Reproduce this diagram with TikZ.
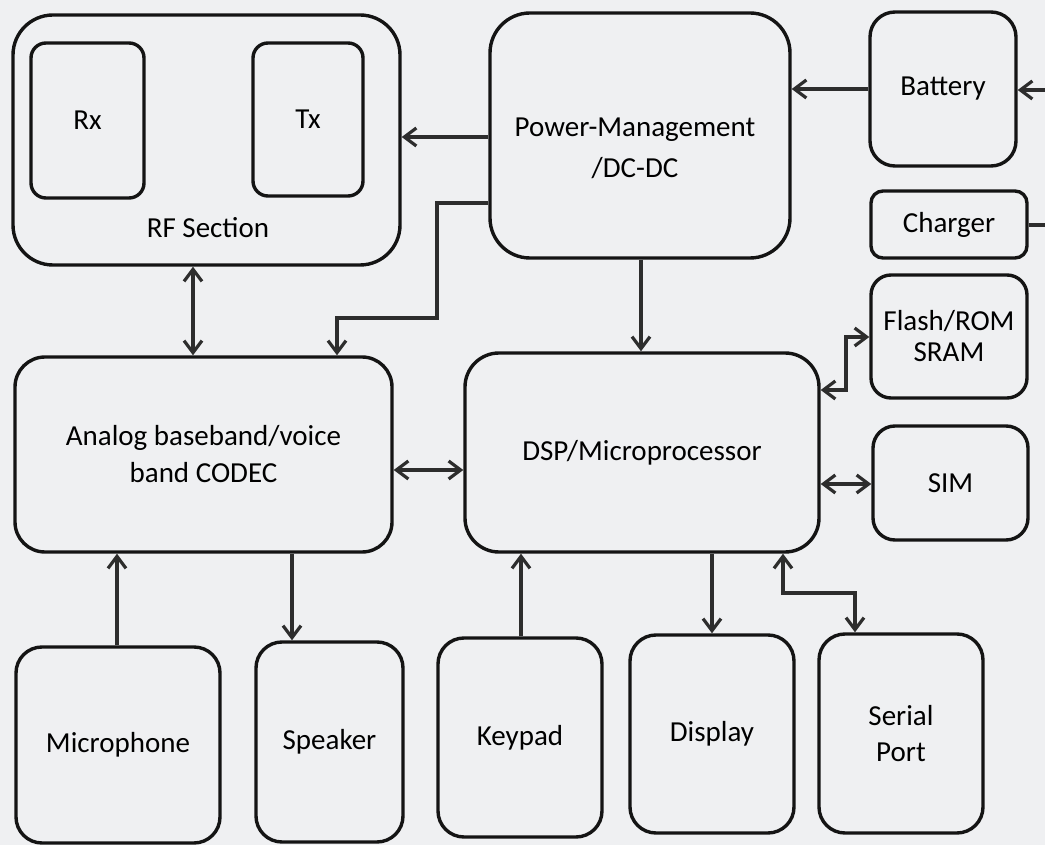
\documentclass[tikz,border=0pt]{standalone}
\usepackage{fontspec}
\setmainfont{Carlito}
\usetikzlibrary{arrows.meta}
\definecolor{bg}{RGB}{239,240,242}
\definecolor{boxc}{RGB}{20,20,20}
\definecolor{linec}{RGB}{45,45,45}
\tikzset{
  box/.style={draw=boxc, line width=1.7pt, rounded corners=#1, inner sep=0pt, align=center,
              font=\fontsize{14.5}{17}\selectfont, text=black},
  txt/.style={inner sep=0pt, align=center, font=\fontsize{14.5}{17}\selectfont, text=black},
  conn/.style={draw=linec, line width=1.6pt, line join=miter},
  onearrow/.style={conn, -{Straight Barb[length=6pt,width=9pt,line width=1.6pt]}},
  twoarrow/.style={conn, {Straight Barb[length=6pt,width=9pt,line width=1.6pt]}-{Straight Barb[length=6pt,width=9pt,line width=1.6pt]}},
}
\begin{document}
\begin{tikzpicture}[x=0.5pt,y=-0.5pt]
\fill[bg] (0,0) rectangle (1045,845);
\useasboundingbox (0,0) rectangle (1045,845);

% RF section
\node[box=20pt, minimum width=193.5pt, minimum height=125pt] (rf) at (206.5,140) {};
\node[box=7.5pt, minimum width=56.5pt, minimum height=77.5pt] (rx) at (87.5,120.5) {Rx};
\node[box=7.5pt, minimum width=55pt, minimum height=76.5pt] (tx) at (308,119.5) {Tx};
\node[txt] (rflabel) at (208,228) {RF Section};

% Power management
\node[box=20pt, minimum width=150pt, minimum height=122.5pt] (pm) at (640,135.5) {};
\node[txt, font=\fontsize{14.5}{20.5}\selectfont] (pmlabel) at (635,148.5) {Power-Management\\/DC-DC};

% Right column
\node[box=12.5pt, minimum width=73pt, minimum height=77pt] (bat) at (943,89) {Battery};
\node[box=6pt, minimum width=78pt, minimum height=33.5pt] (chg) at (949,224.5) {Charger};
\node[box=10pt, minimum width=78pt, minimum height=61.5pt, font=\fontsize{14.5}{15.5}\selectfont] (fl) at (949,336.5) {Flash/ROM\\SRAM};
\node[box=11pt, minimum width=77.5pt, minimum height=57pt] (sim) at (950.5,483) {SIM};

% Middle row
\node[box=15pt, minimum width=188.5pt, minimum height=97.5pt, font=\fontsize{14.5}{18.5}\selectfont] (ana) at (203.5,454.5) {Analog baseband/voice\\band CODEC};
\node[box=17pt, minimum width=177pt, minimum height=99.5pt] (dsp) at (642,452.5) {DSP/Microprocessor};

% Bottom row
\node[box=13pt, minimum width=102pt, minimum height=98pt] (mic) at (118,745) {Microphone};
\node[box=13pt, minimum width=73.5pt, minimum height=100pt] (spk) at (329.5,742) {Speaker};
\node[box=13pt, minimum width=82pt, minimum height=99.5pt] (key) at (520,737.5) {Keypad};
\node[box=13pt, minimum width=82pt, minimum height=99pt] (disp) at (712,734) {Display};
\node[box=13pt, minimum width=82pt, minimum height=99.5pt, font=\fontsize{14.5}{18}\selectfont] (ser) at (901,733.5) {Serial\\Port};

% helper coordinates
\coordinate (xrfa) at (193,0);
\coordinate (ypmrf) at (0,137);
\coordinate (ypma) at (0,203);
\coordinate (pa1) at (437,203);
\coordinate (pa2) at (437,318);
\coordinate (pa3) at (337,318);
\coordinate (xpmd) at (641,0);
\coordinate (ebat) at (1045,90);
\coordinate (echg) at (1045,225);
\coordinate (fl1) at (846,337);
\coordinate (fl2) at (846,390);
\coordinate (yad) at (0,470);
\coordinate (yds) at (0,484);
\coordinate (xmic) at (117,0);
\coordinate (xspk) at (292,0);
\coordinate (xkey) at (521,0);
\coordinate (xdisp) at (712,0);
\coordinate (xser1) at (783,0);
\coordinate (sp1) at (783,593);
\coordinate (sp2) at (855,593);

% connectors
\draw[twoarrow] (xrfa |- rf.south) -- (xrfa |- ana.north);
\draw[onearrow] (pm.west |- ypmrf) -- (rf.east |- ypmrf);
\draw[onearrow] (pm.west |- ypma) -- (pa1) -- (pa2) -- (pa3) -- (pa3 |- ana.north);
\draw[onearrow] (bat.west) -- (pm.east |- bat.west);
\draw[onearrow] (ebat) -- (bat.east |- ebat);
\draw[conn] (chg.east |- echg) -- (echg);
\draw[onearrow] (xpmd |- pm.south) -- (xpmd |- dsp.north);
\draw[twoarrow] (dsp.east |- fl2) -- (fl2) -- (fl1) -- (fl.west |- fl1);
\draw[twoarrow] (ana.east |- yad) -- (dsp.west |- yad);
\draw[twoarrow] (dsp.east |- yds) -- (sim.west |- yds);
\draw[onearrow] (xmic |- mic.north) -- (xmic |- ana.south);
\draw[onearrow] (xspk |- ana.south) -- (xspk |- spk.north);
\draw[onearrow] (xkey |- key.north) -- (xkey |- dsp.south);
\draw[onearrow] (xdisp |- dsp.south) -- (xdisp |- disp.north);
\draw[twoarrow] (xser1 |- dsp.south) -- (sp1) -- (sp2) -- (sp2 |- ser.north);
\end{tikzpicture}
\end{document}
